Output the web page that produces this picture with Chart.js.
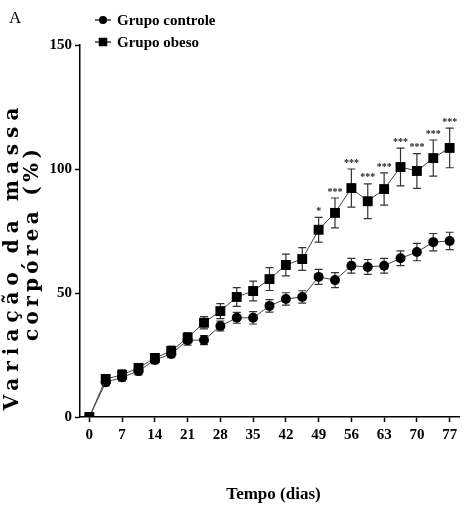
<!DOCTYPE html>
<html>
<head>
<meta charset="utf-8">
<script src="https://cdn.jsdelivr.net/npm/chart.js@4.4.1/dist/chart.umd.min.js"></script>
<style>
  html, body { margin: 0; padding: 0; background: #fff; }
  #wrap { width: 466px; height: 510px; }
</style>
</head>
<body>
<div id="wrap"><canvas id="massChart" width="466" height="510"></canvas></div>
<script>
// Body mass change (%) over time, mean ± SEM
const days = [0, 3.5, 7, 10.5, 14, 17.5, 21, 24.5, 28, 31.5, 35, 38.5, 42, 45.5, 49, 52.5, 56, 59.5, 63, 66.5, 70, 73.5, 77];
const xTicks = [0, 7, 14, 21, 28, 35, 42, 49, 56, 63, 70, 77];
const yTicks = [0, 50, 100, 150];

const controlMean = [0, 14, 16, 18.5, 23, 25.4, 31, 31, 36.7, 40, 40, 44.8, 47.6, 48.4, 56.5, 55.2, 61, 60.5, 61, 64, 66.5, 70.5, 71];
const controlSem  = [0, 1.5, 1.5, 1.5, 1.5, 1.5, 2, 1.8, 2, 2.2, 2.5, 2.5, 2.5, 2.5, 3, 3, 3, 3, 3, 3, 3.5, 3.5, 3.5];
const obeseMean   = [0, 15.3, 17, 19.8, 23.8, 26.6, 32, 38, 42.7, 48.4, 50.8, 55.6, 61.3, 63.7, 75.5, 82.3, 92.3, 87, 91.9, 100.8, 99.2, 104.4, 108.5];
const obeseSem    = [0, 1.8, 2, 1.5, 1.5, 2, 2, 2.5, 3, 3.8, 4, 4.6, 4.4, 4.6, 5, 6, 7.7, 7, 6.5, 7.6, 7, 7.3, 8];
const obeseSig    = ['', '', '', '', '', '', '', '', '', '', '', '', '', '', '*', '***', '***', '***', '***', '***', '***', '***', '***'];

const seriesNames = ['Grupo controle', 'Grupo obeso'];
const panelLabel = 'A';
const xTitle = 'Tempo (dias)';
const yTitle = ['Variação da massa', 'corpórea (%)'];

const serif = "'Liberation Serif', 'Times New Roman', serif";

const toPoints = (xs, ys) => xs.map((x, i) => ({ x: x, y: ys[i] }));

// error bars (SEM) under the markers
const errorBars = {
  id: 'errorBars',
  beforeDatasetsDraw(chart) {
    const ctx = chart.ctx;
    const xs = chart.scales.x, ys = chart.scales.y;
    const sems = [controlSem, obeseSem];
    ctx.save();
    ctx.strokeStyle = '#333';
    ctx.lineWidth = 1.2;
    chart.data.datasets.forEach((ds, di) => {
      ds.data.forEach((p, i) => {
        const e = sems[di][i];
        if (!e) return;
        const px = xs.getPixelForValue(p.x);
        const top = ys.getPixelForValue(p.y + e);
        const bot = ys.getPixelForValue(p.y - e);
        ctx.beginPath();
        ctx.moveTo(px, top); ctx.lineTo(px, bot);
        ctx.moveTo(px - 4, top); ctx.lineTo(px + 4, top);
        ctx.moveTo(px - 4, bot); ctx.lineTo(px + 4, bot);
        ctx.stroke();
      });
    });
    ctx.restore();
  },
  afterDatasetsDraw(chart) {
    // significance stars above the obese group
    const ctx = chart.ctx;
    const xs = chart.scales.x, ys = chart.scales.y;
    ctx.save();
    ctx.fillStyle = '#222';
    ctx.font = 'bold 10px ' + serif;
    ctx.textAlign = 'center';
    ctx.textBaseline = 'bottom';
    obeseSig.forEach((s, i) => {
      if (!s) return;
      const px = xs.getPixelForValue(days[i]);
      const top = ys.getPixelForValue(obeseMean[i] + obeseSem[i]);
      ctx.fillText(s, px, top - 1);
    });
    ctx.restore();
  }
};

// legend, panel letter and axis titles
const decorations = {
  id: 'decorations',
  afterDraw(chart) {
    const ctx = chart.ctx;
    const area = chart.chartArea;
    ctx.save();
    ctx.fillStyle = '#000';

    ctx.font = '17px ' + serif;
    ctx.textAlign = 'left';
    ctx.textBaseline = 'middle';
    ctx.fillText(panelLabel, 9, 19);

    chart.data.datasets.forEach((ds, i) => {
      const y = 20 + i * 22;
      ctx.strokeStyle = '#000';
      ctx.lineWidth = 1.2;
      ctx.beginPath();
      ctx.moveTo(95, y); ctx.lineTo(111, y);
      ctx.stroke();
      ctx.fillStyle = '#000';
      Chart.helpers.drawPoint(ctx, { pointStyle: ds.pointStyle, radius: ds.pointRadius - 1, rotation: 0 }, 103, y);
      ctx.font = 'bold 15px ' + serif;
      ctx.fillText(ds.label, 117, y + 1);
    });

    ctx.font = 'bold 17px ' + serif;
    ctx.textAlign = 'center';
    ctx.fillText(xTitle, (area.left + area.right) / 2 + 4, 495);

    ctx.translate(0, 261);
    ctx.rotate(-Math.PI / 2);
    ctx.font = 'bold 20px "DejaVu Serif", serif';
    ctx.letterSpacing = '6px';
    ctx.fillText(yTitle[0], 2 + 3, 13);
    ctx.letterSpacing = '4.3px';
    ctx.fillText(yTitle[1], 16 + 2.1, 33);
    ctx.restore();
  }
};

new Chart(document.getElementById('massChart'), {
  type: 'line',
  data: {
    datasets: [
      {
        label: seriesNames[0],
        data: toPoints(days, controlMean),
        borderColor: '#444',
        borderWidth: 1,
        pointStyle: 'circle',
        pointRadius: 5,
        pointBackgroundColor: '#000',
        pointBorderColor: '#000',
        pointBorderWidth: 0,
        order: 2
      },
      {
        label: seriesNames[1],
        data: toPoints(days, obeseMean),
        borderColor: '#444',
        borderWidth: 1,
        pointStyle: 'rect',
        pointRadius: 7,
        pointBackgroundColor: '#000',
        pointBorderColor: '#000',
        pointBorderWidth: 0,
        order: 1
      }
    ]
  },
  options: {
    responsive: false,
    animation: false,
    events: [],
    layout: { padding: { left: 0, right: 6, top: 45, bottom: 0 } },
    plugins: {
      legend: { display: false },
      tooltip: { enabled: false }
    },
    scales: {
      x: {
        type: 'linear',
        min: -2,
        max: 79,
        afterBuildTicks: axis => { axis.ticks = xTicks.map(v => ({ value: v })); },
        afterFit: axis => { axis.height = 93; },
        grid: { drawOnChartArea: false, tickLength: 5, color: '#000', tickWidth: 1.5 },
        border: { color: '#000', width: 1.5 },
        ticks: { color: '#000', padding: 4, maxRotation: 0, font: { family: serif, size: 15, weight: 'bold' } }
      },
      y: {
        min: 0,
        max: 150,
        afterBuildTicks: axis => { axis.ticks = yTicks.map(v => ({ value: v })); },
        afterFit: axis => { axis.width = 80; },
        grid: { drawOnChartArea: false, tickLength: 5, color: '#000', tickWidth: 1.5 },
        border: { color: '#000', width: 1.5 },
        ticks: { color: '#000', padding: 3, font: { family: serif, size: 15, weight: 'bold' } }
      }
    }
  },
  plugins: [errorBars, decorations]
});
</script>
</body>
</html>
